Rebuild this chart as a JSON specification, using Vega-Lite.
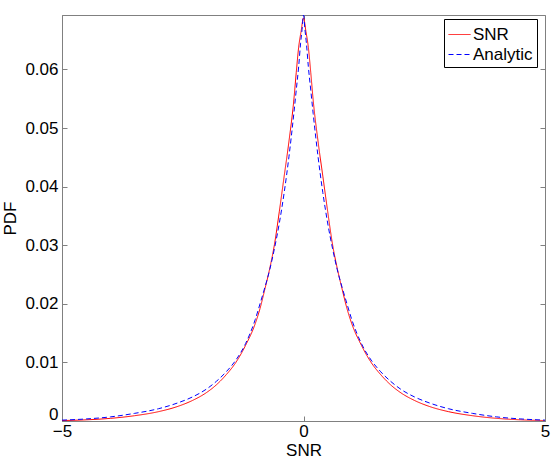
{
  "$schema": "https://vega.github.io/schema/vega-lite/v6.json",
  "autosize": "none",
  "width": 483,
  "height": 406,
  "padding": {"left": 62, "top": 15, "right": 9, "bottom": 42},
  "background": "white",
  "config": {
    "view": {"stroke": "#808080", "strokeWidth": 1},
    "font": "Liberation Sans",
    "axis": {"grid": false, "domainColor": "#808080", "tickColor": "#808080", "tickWidth": 1, "labelColor": "black", "titleColor": "black", "labelFontSize": 17, "titleFontSize": 17, "titleFontWeight": "normal", "labelFont": "Liberation Sans", "titleFont": "Liberation Sans"}
  },
  "data": {"values": [
    {"x": -5, "y": 0.00008, "series": "SNR"},
    {"x": -4.5, "y": 0.0002, "series": "SNR"},
    {"x": -4.0, "y": 0.00045, "series": "SNR"},
    {"x": -3.5, "y": 0.0009, "series": "SNR"},
    {"x": -3.0, "y": 0.0016, "series": "SNR"},
    {"x": -2.6, "y": 0.0025, "series": "SNR"},
    {"x": -2.3, "y": 0.0035, "series": "SNR"},
    {"x": -2.0, "y": 0.0049, "series": "SNR"},
    {"x": -1.8, "y": 0.0062, "series": "SNR"},
    {"x": -1.6, "y": 0.0079, "series": "SNR"},
    {"x": -1.4, "y": 0.01, "series": "SNR"},
    {"x": -1.2, "y": 0.0129, "series": "SNR"},
    {"x": -1.0, "y": 0.0166, "series": "SNR"},
    {"x": -0.9, "y": 0.0192, "series": "SNR"},
    {"x": -0.8, "y": 0.0225, "series": "SNR"},
    {"x": -0.7, "y": 0.026, "series": "SNR"},
    {"x": -0.6, "y": 0.0302, "series": "SNR"},
    {"x": -0.5, "y": 0.0358, "series": "SNR"},
    {"x": -0.4, "y": 0.0418, "series": "SNR"},
    {"x": -0.3, "y": 0.0478, "series": "SNR"},
    {"x": -0.2, "y": 0.0548, "series": "SNR"},
    {"x": -0.15, "y": 0.0595, "series": "SNR"},
    {"x": -0.1, "y": 0.0638, "series": "SNR"},
    {"x": -0.05, "y": 0.0665, "series": "SNR"},
    {"x": 0, "y": 0.0688, "series": "SNR"},
    {"x": 0.05, "y": 0.0665, "series": "SNR"},
    {"x": 0.1, "y": 0.0638, "series": "SNR"},
    {"x": 0.15, "y": 0.0595, "series": "SNR"},
    {"x": 0.2, "y": 0.0548, "series": "SNR"},
    {"x": 0.3, "y": 0.0478, "series": "SNR"},
    {"x": 0.4, "y": 0.0418, "series": "SNR"},
    {"x": 0.5, "y": 0.0358, "series": "SNR"},
    {"x": 0.6, "y": 0.0302, "series": "SNR"},
    {"x": 0.7, "y": 0.026, "series": "SNR"},
    {"x": 0.8, "y": 0.0225, "series": "SNR"},
    {"x": 0.9, "y": 0.0192, "series": "SNR"},
    {"x": 1.0, "y": 0.0166, "series": "SNR"},
    {"x": 1.2, "y": 0.0129, "series": "SNR"},
    {"x": 1.4, "y": 0.01, "series": "SNR"},
    {"x": 1.6, "y": 0.0079, "series": "SNR"},
    {"x": 1.8, "y": 0.0062, "series": "SNR"},
    {"x": 2.0, "y": 0.0049, "series": "SNR"},
    {"x": 2.3, "y": 0.0035, "series": "SNR"},
    {"x": 2.6, "y": 0.0025, "series": "SNR"},
    {"x": 3.0, "y": 0.0016, "series": "SNR"},
    {"x": 3.5, "y": 0.0009, "series": "SNR"},
    {"x": 4.0, "y": 0.00045, "series": "SNR"},
    {"x": 4.5, "y": 0.0002, "series": "SNR"},
    {"x": 5, "y": 0.00008, "series": "SNR"},
    {"x": -5, "y": 0.00015, "series": "Analytic"},
    {"x": -4.5, "y": 0.00035, "series": "Analytic"},
    {"x": -4.0, "y": 0.0007, "series": "Analytic"},
    {"x": -3.5, "y": 0.0013, "series": "Analytic"},
    {"x": -3.0, "y": 0.0021, "series": "Analytic"},
    {"x": -2.6, "y": 0.0031, "series": "Analytic"},
    {"x": -2.3, "y": 0.0041, "series": "Analytic"},
    {"x": -2.0, "y": 0.0055, "series": "Analytic"},
    {"x": -1.8, "y": 0.0068, "series": "Analytic"},
    {"x": -1.6, "y": 0.0084, "series": "Analytic"},
    {"x": -1.4, "y": 0.0104, "series": "Analytic"},
    {"x": -1.2, "y": 0.0132, "series": "Analytic"},
    {"x": -1.0, "y": 0.0173, "series": "Analytic"},
    {"x": -0.9, "y": 0.02, "series": "Analytic"},
    {"x": -0.8, "y": 0.0228, "series": "Analytic"},
    {"x": -0.7, "y": 0.0258, "series": "Analytic"},
    {"x": -0.6, "y": 0.0295, "series": "Analytic"},
    {"x": -0.5, "y": 0.0338, "series": "Analytic"},
    {"x": -0.4, "y": 0.039, "series": "Analytic"},
    {"x": -0.3, "y": 0.0452, "series": "Analytic"},
    {"x": -0.2, "y": 0.0525, "series": "Analytic"},
    {"x": -0.15, "y": 0.0565, "series": "Analytic"},
    {"x": -0.1, "y": 0.0605, "series": "Analytic"},
    {"x": -0.06, "y": 0.0645, "series": "Analytic"},
    {"x": -0.03, "y": 0.0668, "series": "Analytic"},
    {"x": 0, "y": 0.0693, "series": "Analytic"},
    {"x": 0.03, "y": 0.0668, "series": "Analytic"},
    {"x": 0.06, "y": 0.0645, "series": "Analytic"},
    {"x": 0.1, "y": 0.0605, "series": "Analytic"},
    {"x": 0.15, "y": 0.0565, "series": "Analytic"},
    {"x": 0.2, "y": 0.0525, "series": "Analytic"},
    {"x": 0.3, "y": 0.0452, "series": "Analytic"},
    {"x": 0.4, "y": 0.039, "series": "Analytic"},
    {"x": 0.5, "y": 0.0338, "series": "Analytic"},
    {"x": 0.6, "y": 0.0295, "series": "Analytic"},
    {"x": 0.7, "y": 0.0258, "series": "Analytic"},
    {"x": 0.8, "y": 0.0228, "series": "Analytic"},
    {"x": 0.9, "y": 0.02, "series": "Analytic"},
    {"x": 1.0, "y": 0.0173, "series": "Analytic"},
    {"x": 1.2, "y": 0.0132, "series": "Analytic"},
    {"x": 1.4, "y": 0.0104, "series": "Analytic"},
    {"x": 1.6, "y": 0.0084, "series": "Analytic"},
    {"x": 1.8, "y": 0.0068, "series": "Analytic"},
    {"x": 2.0, "y": 0.0055, "series": "Analytic"},
    {"x": 2.3, "y": 0.0041, "series": "Analytic"},
    {"x": 2.6, "y": 0.0031, "series": "Analytic"},
    {"x": 3.0, "y": 0.0021, "series": "Analytic"},
    {"x": 3.5, "y": 0.0013, "series": "Analytic"},
    {"x": 4.0, "y": 0.0007, "series": "Analytic"},
    {"x": 4.5, "y": 0.00035, "series": "Analytic"},
    {"x": 5, "y": 0.00015, "series": "Analytic"}
  ]},
  "layer": [
    {
      "mark": {"type": "line", "strokeWidth": 1, "interpolate": "monotone", "clip": true},
      "encoding": {
        "x": {"field": "x", "type": "quantitative", "scale": {"domain": [-5, 5], "nice": false},
          "axis": {"values": [-5, 0, 5], "tickSize": -5, "labelPadding": 7, "labelFlush": false, "title": "SNR", "titlePadding": 3}},
        "y": {"field": "y", "type": "quantitative", "scale": {"domain": [0, 0.0693], "nice": false, "zero": true},
          "axis": {"values": [0, 0.01, 0.02, 0.03, 0.04, 0.05, 0.06], "tickSize": -5, "labelPadding": 9, "labelFlush": true, "labelFlushOffset": 2, "title": "PDF", "titlePadding": 5,
            "labelExpr": "datum.value == 0 ? '0' : format(datum.value, '.2f')"}},
        "color": {"field": "series", "type": "nominal",
          "scale": {"domain": ["SNR", "Analytic"], "range": ["#ff0000", "#0000ff"]},
          "legend": {"title": null, "orient": "none", "legendX": 382, "legendY": 4, "strokeColor": "black", "fillColor": "white", "padding": 4,
            "labelFontSize": 17, "labelFont": "Liberation Sans", "labelColor": "black", "symbolType": "stroke", "symbolSize": 484, "symbolStrokeWidth": 1, "labelOffset": 2, "rowPadding": 0, "cornerRadius": 0,
            "encode": {"symbols": {"update": {
              "stroke": {"signal": "datum.value === 'Analytic' ? '#0000ff' : '#ff0000'"},
              "strokeDash": {"signal": "datum.value === 'Analytic' ? [5, 3] : [30, 0]"}}}}}},
        "strokeDash": {"field": "series", "type": "nominal",
          "scale": {"domain": ["SNR", "Analytic"], "range": [[1, 0], [5, 3]]},
          "legend": null}
      }
    },
    {
      "mark": {"type": "line", "opacity": 0},
      "encoding": {
        "x": {"field": "x", "type": "quantitative", "axis": {"orient": "top", "values": [-5, 0, 5], "tickSize": -5, "labels": false, "domain": false, "title": null}},
        "y": {"field": "y", "type": "quantitative", "axis": {"orient": "right", "values": [0, 0.01, 0.02, 0.03, 0.04, 0.05, 0.06], "tickSize": -5, "labels": false, "domain": false, "title": null}}
      }
    }
  ],
  "resolve": {"axis": {"x": "independent", "y": "independent"}}
}
